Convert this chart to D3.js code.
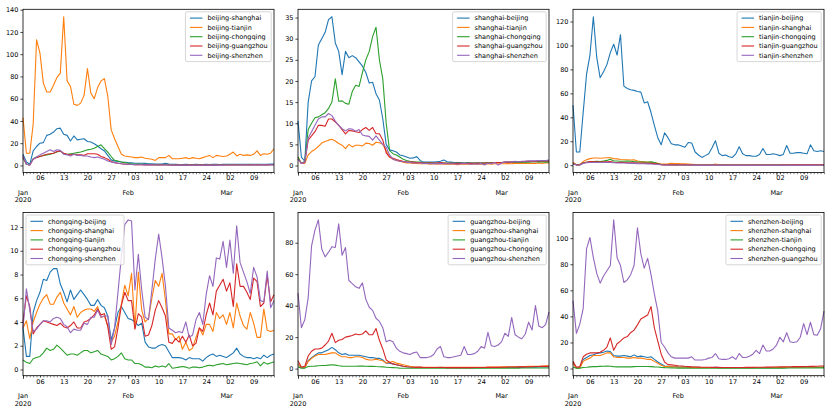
<!DOCTYPE html>
<html><head><meta charset="utf-8">
<script src="https://cdn.jsdelivr.net/npm/d3@7"></script>
<style>
body{margin:0;background:#fff;}
text{font-family:"DejaVu Sans",sans-serif;}
</style></head><body>
<svg id="c" width="830" height="415"></svg>
<script>
// ---------- DATA ----------
const startDate = "2020-01-01";
const endDate = "2020-03-15";
const seriesColors = ["#1f77b4","#ff7f0e","#2ca02c","#d62728","#9467bd"];

const beijing_shanghai = [10,3,1,13,17,20,20.5,27,28,30, 33,33.5,28,27,22,26.5,23,23.5,24,21.5, 21,19.5,17.5,15,13,9,5,4,3.5,3, 2.8,2.5,2.3,2,2,2,1.8,1.5,1.5,1.3, 1.2,1.3,2,1.3,1,0.9,0.8,0.8,0.9,0.8, 0.8,0.9,0.8,0.8,0.9,0.8,0.9,0.9,0.8,0.9, 1,0.9,1,1,1.1,1,1,1.1,1,1.1, 1,1.1,1.1,1.2,1.2];
const beijing_tianjin = [43,11,11,37,113,101,74,66,66,72, 79,83,133.7,76,71,55,54,56,63,87, 65,60,70,76,78,62,32,24,17,10, 8.5,8,7.5,7,7,7.5,6.5,6,5.5,4.5, 7,7,7,9,6,6,6,6.5,7,6, 7,6.5,6,7,8,9,7,9,8.5,8, 8.5,10,12,8.5,10,9,9.5,9,10,13, 9,10.5,10,11,15];
const beijing_chongqing = [7,1,0.5,6,7.5,8,9,9.5,10,11, 12,13,10.5,10,10.5,11,11.5,12,13,14, 14.5,15.5,17,18.5,15,12,8,4.5,4,3, 2.5,2,1.5,1.3,1.2,1,1,0.9,0.8,0.8, 0.7,0.8,0.9,0.7,0.6,0.6,0.5,0.6,0.5,0.5, 0.5,0.5,0.6,0.5,0.5,0.6,0.5,0.6,0.6,0.6, 0.6,0.6,0.7,0.6,0.6,0.7,0.6,0.7,0.7,0.7, 0.6,0.7,0.7,0.7,0.8];
const beijing_guangzhou = [8,1,0.5,5.5,7,8,9,10,10.5,11, 12.5,13,11,10,9.5,10,9.5,9.5,9,10.5, 10.5,10.5,10,8,7,5.5,3.5,2.5,2,1.5, 1.2,1,0.8,0.7,0.6,0.6,0.5,0.5,0.5,0.4, 0.4,0.5,0.4,0.4,0.3,0.3,0.3,0.4,0.3,0.3, 0.3,0.3,0.3,0.4,0.3,0.3,0.4,0.3,0.4,0.4, 0.4,0.4,0.5,0.4,0.4,0.5,0.4,0.5,0.5,0.5, 0.5,0.5,0.5,0.6,0.6];
const beijing_shenzhen = [8.5,1,0.5,5.5,7.5,9.5,11,12.5,14,12.5, 14,13.5,10,9.5,8.5,10,9,9,8.5,8.5, 7.5,7,7.5,6.5,5.5,4,3,2.5,2,1.5, 1.2,1,0.8,0.7,0.6,0.6,0.5,0.5,0.5,0.4, 0.4,0.4,0.5,0.4,0.3,0.3,0.3,0.3,0.3,0.3, 0.3,0.3,0.3,0.3,0.4,0.3,0.3,0.4,0.3,0.3, 0.4,0.4,0.4,0.4,0.4,0.5,0.4,0.4,0.5,0.4, 0.5,0.5,0.4,0.5,0.5];

const shanghai_beijing = [10.5,2,1,15,20,21,28.5,30,31.5,34.5, 35.2,29,27,21.5,27,25.5,26,25.5,24.5,23.5, 22,19.5,19.7,17,15.5,11,5,3.7,3.5,3.2, 2.5,2.3,2,1.7,1.8,2.1,1.2,0.8,0.8,0.8, 0.8,0.9,1,1.3,0.9,0.8,0.7,0.7,0.7,0.6, 0.7,0.6,0.6,0.6,0.6,0.6,0.7,0.6,0.7,0.7, 0.7,0.8,0.7,0.8,0.8,0.8,0.9,0.8,0.9,0.9, 0.9,1,1,1,1.1];
const shanghai_tianjin = [2,0.5,0.5,2.5,3.3,3.8,4.5,5.3,5.7,6, 6.2,5.8,5.2,4.8,4,5,4.4,4.8,4.8,4.6, 5.3,5.2,4.8,5.5,5.4,5,3.5,2,1.5,1.2, 1,0.8,0.6,0.6,0.5,0.5,0.4,0.4,0.4,0.3, 0.4,0.3,0.4,0.3,0.3,0.3,0.3,0.2,0.3,0.3, 0.3,0.3,0.3,0.3,0.3,0.3,0.4,0.3,0.4,0.4, 0.4,0.4,0.5,0.4,0.5,0.5,0.5,0.5,0.5,0.5, 0.5,0.6,0.5,0.6,0.6];
const shanghai_chongqing = [2,0.5,1,8.5,10,11.3,11.5,12,12.5,13.5, 15,20.5,15.2,15.3,14.7,14.5,17.5,19,18.7,22, 25,27,30.5,32.7,25,20.5,10,3.5,2.8,2.5, 2,1.5,1.2,1,0.9,0.8,0.8,0.7,0.7,0.7, 0.6,0.6,0.7,0.6,0.6,0.6,0.5,0.6,0.5,0.5, 0.5,0.6,0.6,0.6,0.6,0.6,0.7,0.7,0.7,0.7, 0.7,0.7,0.8,0.8,0.8,0.8,0.8,0.8,0.8,0.9, 0.9,0.8,0.9,0.8,0.8];
const shanghai_guangzhou = [1.5,0.5,0.7,6,7,8,9.5,9.5,9.3,11, 11,10.3,9.5,8.5,7.5,8.3,8.2,8,7.8,8.5, 9,8.3,9,7.5,7.5,6,3,2,1.7,1.4, 1.2,1,0.9,0.8,0.8,0.7,0.7,0.6,0.6,0.6, 0.6,0.6,0.7,0.6,0.5,0.5,0.5,0.5,0.5,0.5, 0.5,0.5,0.5,0.6,0.5,0.6,0.6,0.6,0.7,0.7, 0.7,0.8,0.8,0.8,0.9,0.9,0.9,1,1,1, 1,1.1,1.1,1.1,1.1];
const shanghai_shenzhen = [1.5,0.5,0.8,6.5,8,9.5,11,11.5,11.5,12.3, 11.8,10.5,9.5,8.7,8.2,8.7,8.6,8.1,8.5,7.2, 7,6.9,6,7,6,5,4.3,2.5,1.5,1.2, 1,0.9,0.8,0.7,0.6,0.6,0.6,0.5,0.5,0.4, 0.5,0.4,0.5,0.4,0.4,0.4,0.4,0.3,0.4,0.4, 0.4,0.3,0.4,0.3,0.5,0.1,0.6,0.4,0.7,0.1, 0.6,0.8,0.9,0.8,1,0.9,1,1,1.1,1.1, 1.1,1.2,1.2,1.2,1.3];

const tianjin_beijing = [50,11,11,44,76,92,124,90,73,78, 84,94,101,92,109,66,64,63,62.5,61.5, 61,52,53,44,33,23,17,27,23,18, 17,17,16,15,19,18.5,11,8.5,6.5,8, 9.5,14.5,20.5,10,8,8.5,7,6.5,9.5,15.5, 9.5,8,8,7.5,7.5,9,14,9,9,9.5, 9,8,9,16.5,10,10,10.5,10.5,10,9.5, 17,12,11.5,12,11.5];
const tianjin_shanghai = [2.5,0.5,0.5,3,4.5,5.5,6,6,5.8,6, 6.2,6.3,5.5,5.3,4.8,4.5,4.5,4.3,4.5,3.5, 3,2.8,2.7,2.5,2,1.5,1,1,1.2,1.5, 1.3,1.3,1.2,1.2,1,0.8,0.5,0.4,0.3,0.3, 0.3,0.4,1,0.3,0.3,0.3,0.3,0.3,0.2,0.3, 0.3,0.3,0.2,0.3,0.3,0.3,0.3,0.3,0.3,0.3, 0.3,0.4,0.3,0.4,0.4,0.3,0.4,0.4,0.4,0.4, 0.4,0.4,0.4,0.5,0.4];
const tianjin_chongqing = [1.5,0.3,0.3,2,2.5,3,3,3.2,3,3.5, 4,5,3.5,3.5,3.3,3.3,3.5,3.3,3,2.8, 2.7,2.6,2.5,2.8,2.3,1.5,0.5,0.4,0.4,0.3, 0.3,0.3,0.2,0.3,0.2,0.2,0.2,0.2,0.2,0.2, 0.2,0.2,0.2,0.2,0.2,0.2,0.2,0.2,0.2,0.2, 0.2,0.2,0.2,0.2,0.2,0.2,0.2,0.2,0.2,0.2, 0.2,0.2,0.2,0.2,0.2,0.2,0.2,0.2,0.2,0.2, 0.2,0.2,0.2,0.2,0.2];
const tianjin_guangzhou = [1.5,0.3,0.3,1.8,2.5,3,2.8,2.8,2.6,2.8, 2.8,3,2.5,2.3,2.5,2.3,2,2,2,1.8, 1.7,1.7,1.5,1.5,1.3,1,0.5,0.3,0.3,0.3, 0.3,0.3,0.3,0.3,0.3,0.3,0.2,0.2,0.2,0.2, 0.2,0.2,0.2,0.2,0.2,0.2,0.2,0.2,0.2,0.2, 0.2,0.2,0.2,0.2,0.2,0.2,0.2,0.2,0.2,0.2, 0.2,0.2,0.3,0.2,0.3,0.3,0.3,0.3,0.3,0.3, 0.3,0.3,0.3,0.3,0.3];
const tianjin_shenzhen = [1.2,0.2,0.2,1.5,2,2.2,2.3,2.3,2.2,2.3, 2.4,2.2,2,1.8,1.9,1.8,1.6,1.5,1.5,1.3, 1.2,1.2,1.1,1,0.8,0.6,0.4,0.2,0.2,0.2, 0.2,0.2,0.2,0.2,0.2,0.2,0.1,0.1,0.1,0.1, 0.1,0.1,0.1,0.1,0.1,0.1,0.1,0.1,0.1,0.1, 0.1,0.1,0.1,0.1,0.1,0.1,0.1,0.1,0.1,0.1, 0.1,0.1,0.1,0.1,0.1,0.1,0.1,0.1,0.1,0.1, 0.1,0.1,0.1,0.1,0.1];

const chongqing_beijing = [3.5,1.1,1.1,4.8,5.8,6.5,7.6,7.5,8.2,8.5, 8.5,7.2,6.5,5.7,6.7,5.9,6.3,6.7,6.3,5.9, 5.4,5.4,5.9,5.4,5.2,4.5,2.5,3.5,4.8,5.3, 4.8,4.3,4.2,4,3.7,3.9,2.3,1.9,1.8,1.8, 2,2.1,2,1.5,1,1,1,0.95,0.8,1, 0.9,0.9,0.9,0.7,1,1.2,1.3,1.1,1.2,1.1, 1,1.2,1.4,1.8,1.3,1.1,1,1,0.9,1, 0.9,1.2,1,1.2,1.3];
const chongqing_shanghai = [3.5,4.1,2.6,4,4.8,5.5,6,6.3,5.5,5.5, 6.1,6.5,5.6,5.1,4.6,5.3,4.4,4.8,5,5.1, 5.1,4.9,5.3,4.4,4.5,3.7,2.3,2.8,4,5.5, 7.1,6.2,8.1,3.5,8.2,5,4,4.3,6,7.5, 7,8.1,5.8,3,3,2.5,2.8,1.7,2.3,1.6, 1.8,2.7,3.5,2.9,3.8,3.8,3.2,4.8,4.3,4.6, 3.8,4.8,3.5,5.6,4.5,3.7,3.4,4.8,3.9,2.7, 2.7,5.1,3.3,3.2,3.3];
const chongqing_tianjin = [0.8,0.6,0.5,0.9,1,1.1,1.4,1.8,1.6,1.7, 2.05,1.8,1.5,1.2,1.3,1.3,1.2,1.4,1.6,1.6, 1.4,1.5,1.6,1.3,1.2,1.1,0.8,0.9,1.1,1.4, 0.9,0.8,0.8,0.5,0.5,0.4,0.2,0.2,0.15,0.3, 0.2,0.3,0.2,0.5,0.1,0.15,0.2,0.25,0.2,0.1, 0.2,0.2,0.15,0.2,0.3,0.35,0.3,0.4,0.45,0.5, 0.4,0.45,0.5,0.55,0.5,0.45,0.4,0.5,0.55,0.65, 0.3,0.6,0.45,0.55,0.65];
const chongqing_guangzhou = [4,6.2,5.3,3,3.5,3.8,4.1,4,3.9,3.8, 3.7,3.9,3.6,3.5,3.7,4,3.5,3.5,4,4.1, 4.3,4.6,5.1,4.6,4.7,3.6,1.7,1.9,3.5,5.4, 6.5,5.8,5.8,3.4,4.7,4.4,2.8,2.9,3.7,5, 5.8,5.2,4.5,2.3,2.2,2.6,2.3,2.8,2.3,2.9, 2,2.2,3.5,3.2,4.6,5.6,4.6,6.6,7.1,7.6, 6.6,7.3,5.3,8.9,7,7,6.5,5.9,7.7,7.4, 5.3,5.6,7.9,5.7,6.3];
const chongqing_shenzhen = [3.5,6.8,5,3.2,3.4,3.8,4.1,4.1,4,4.3, 4.4,4.3,3.8,3.6,3.1,3.4,3.3,3.3,3.9,3.8, 4.4,4.4,5,4.4,4.5,4.5,2.1,3.5,6.5,9.5, 12.2,12.6,12.5,6.7,9.7,6.7,4.4,4.2,6.7,9.3, 11.4,9.4,7,3.5,3.3,3.1,3.2,3.1,4,2.7, 2.9,4.2,4.8,3.8,6.3,7.9,7,9.4,9.3,10.8, 8.6,10.9,8.1,12.1,9,8.2,7.4,6.4,8.6,7.8, 5.8,5.7,8.3,5.2,5.8];

const guangzhou_beijing = [3,0.5,0.5,5,7,8.5,10,10,11,12, 13.5,12,10,9,9.5,8.5,8.5,8.5,8.5,8, 7.5,7,7,6.5,6.5,5.5,3.5,3.5,3,2.5, 2,1.5,1.2,1,0.9,0.8,0.8,0.7,0.7,0.7, 0.7,0.7,0.8,0.7,0.6,0.6,0.6,0.6,0.6,0.6, 0.6,0.6,0.6,0.6,0.7,0.6,0.7,0.7,0.7,0.7, 0.7,0.8,0.8,0.8,0.8,0.9,0.8,0.9,0.9,0.9, 0.9,1,1,1,1];
const guangzhou_shanghai = [3,0.5,0.5,4.5,6.5,8,9,9,9,9.5, 10,10,8.5,7.5,7.5,7,7,7.5,7.5,7, 6,5.5,5.5,6,5.5,5,3.5,4,4.5,3.5, 3,2.5,2,1.5,1.2,1,1,0.9,0.9,0.8, 0.8,0.8,0.9,0.8,0.8,0.8,0.8,0.8,0.8,0.8, 0.8,0.8,0.8,0.9,0.9,0.9,1,1,1,1, 1.1,1.1,1.2,1.2,1.2,1.3,1.3,1.3,1.4,1.4, 1.5,1.5,1.6,1.7,1.8];
const guangzhou_tianjin = [1,0.3,0.3,1.3,1.5,1.6,1.8,2,2,2.2, 2.4,2.2,1.8,1.6,1.5,1.5,1.5,1.5,1.6,1.6, 1.5,1.4,1.5,1.3,1.2,1.1,0.9,0.7,0.6,0.5, 0.3,0.2,0.2,0.2,0.2,0.2,0.2,0.2,0.2,0.2, 0.2,0.2,0.2,0.2,0.2,0.2,0.2,0.2,0.2,0.2, 0.2,0.2,0.2,0.3,0.3,0.3,0.3,0.3,0.3,0.3, 0.3,0.3,0.3,0.4,0.3,0.3,0.4,0.4,0.4,0.4, 0.4,0.4,0.4,0.4,0.4];
const guangzhou_chongqing = [5,1,1.5,8,11,12.5,12.5,13,15,17.5, 22.5,16.5,18,18.5,20,20.5,21,22,21.5,22, 24,21.5,21.5,25.5,18,12.5,5.5,4,3,2.5, 2,1.5,1.2,1,0.9,0.8,0.8,0.7,0.7,0.7, 0.7,0.7,0.7,0.7,0.6,0.6,0.6,0.6,0.6,0.6, 0.6,0.6,0.7,0.7,0.7,0.7,0.8,0.8,0.8,0.8, 0.9,0.9,1,1,1,1.1,1.1,1.1,1.2,1.2, 1.3,1.3,1.4,1.4,1.5];
const guangzhou_shenzhen = [48,26,31,45,78,88,94.5,76,71,74, 77.5,77,92,72,77,56,54,52,51,54.5, 44,39,37,32,30,26,17,18,17,13, 11,10,9.5,9,10,10.5,7,7,7,7.5, 9,12.5,14,7.5,7,7,7.5,8,8.5,14, 9,9,9.5,11,14,13,23,14.5,14,15, 17,22.5,20.5,32.5,21.5,20,19,22,29.5,24.5, 40,27,26,28,36];

const shenzhen_beijing = [4,0.5,0.5,7,8.5,10,10.5,11.5,12,12.5, 13.5,13,10,9.5,9.5,10,9.5,9,10.5,9, 9.5,9,8.5,9,7,5,3.5,2,1.8,1.6, 1.5,1.3,1.2,1.1,1,1,0.9,0.9,0.8,0.8, 0.8,0.8,0.9,0.7,0.7,0.7,0.7,0.6,0.6,0.6, 0.6,0.6,0.6,0.6,0.7,0.6,0.7,0.7,0.7,0.7, 0.7,0.7,0.8,0.7,0.8,0.8,0.8,0.8,0.8,0.8, 0.8,0.8,0.8,0.8,0.9];
const shenzhen_shanghai = [4,0.5,0.5,5.5,7,8,10,10,10,11, 12,12,9,8.5,8.5,8.5,8,8,8.5,8, 8,7.5,7,7,5.5,4,2.5,1.5,1.5,1.4, 1.3,1.2,1.1,1,1,0.9,0.9,0.8,0.8,0.8, 0.8,0.8,0.8,0.7,0.7,0.7,0.7,0.7,0.7,0.7, 0.7,0.7,0.7,0.7,0.8,0.8,0.8,0.8,0.8,0.9, 0.9,0.9,0.9,0.9,1,1,1,1,1,1, 1,1.1,1,1.1,1.1];
const shenzhen_tianjin = [1,0.3,0.3,0.8,1,1.3,1.5,1.5,1.7,1.8, 2,1.8,1.5,1.3,1.3,1.3,1.3,1.3,1.5,1.6, 1.6,1.6,1.6,1.5,1.3,1.2,0.9,0.7,0.6,0.5, 0.4,0.3,0.3,0.3,0.3,0.3,0.2,0.2,0.2,0.2, 0.2,0.2,0.2,0.2,0.2,0.2,0.2,0.2,0.2,0.2, 0.2,0.2,0.3,0.3,0.3,0.3,0.3,0.3,0.3,0.3, 0.3,0.3,0.3,0.4,0.4,0.4,0.4,0.4,0.4,0.4, 0.4,0.4,0.5,0.5,0.5];
const shenzhen_chongqing = [5.5,1,1.5,9,11,12,12,12,12.5,14, 16.5,23.5,14,19,21,23.5,24.5,27.5,29.5,33.5, 38,39.5,41,47.5,31,21,11,5,3,2.8, 2.5,2.2,2,1.7,1.5,1.3,1.2,1.1,1,1, 1,0.9,0.9,0.9,0.8,0.8,0.8,0.8,0.8,0.8, 0.8,0.9,0.9,0.9,1,1,1,1.1,1.1,1.2, 1.2,1.3,1.3,1.4,1.4,1.5,1.5,1.5,1.6,1.6, 1.7,1.7,1.8,1.9,2];
const shenzhen_guangzhou = [52,27,34,46,92,100.5,85,73,65.5,71, 75,79,114,85,79,66,68,72,79,108, 88,77,84.5,72,57,44,20,16.5,12,9, 8,8,8,8,8,9,6.5,6.5,6.5,7, 8,8.5,11.5,7.5,7,7,7.5,9,7,11.5, 8.5,8.5,9.5,11,14,11.5,18,13.5,13.5,15, 18,24,20.5,27.5,20.5,20,20.5,24,34.5,26, 35.5,26,25.5,30.5,44];

const yTicks1 = [0,20,40,60,80,100,120,140];
const yTicks2 = [0,5,10,15,20,25,30,35];
const yTicks3 = [0,20,40,60,80,100,120];
const yTicks4 = [0,2,4,6,8,10,12];
const yTicks5 = [0,20,40,60,80];
const yTicks6 = [0,20,40,60,80,100];

const panels = [
  {names:["beijing-shanghai","beijing-tianjin","beijing-chongqing","beijing-guangzhou","beijing-shenzhen"],
   values:[beijing_shanghai,beijing_tianjin,beijing_chongqing,beijing_guangzhou,beijing_shenzhen], ticks:yTicks1, legend:"ur"},
  {names:["shanghai-beijing","shanghai-tianjin","shanghai-chongqing","shanghai-guangzhou","shanghai-shenzhen"],
   values:[shanghai_beijing,shanghai_tianjin,shanghai_chongqing,shanghai_guangzhou,shanghai_shenzhen], ticks:yTicks2, legend:"ur"},
  {names:["tianjin-beijing","tianjin-shanghai","tianjin-chongqing","tianjin-guangzhou","tianjin-shenzhen"],
   values:[tianjin_beijing,tianjin_shanghai,tianjin_chongqing,tianjin_guangzhou,tianjin_shenzhen], ticks:yTicks3, legend:"ur"},
  {names:["chongqing-beijing","chongqing-shanghai","chongqing-tianjin","chongqing-guangzhou","chongqing-shenzhen"],
   values:[chongqing_beijing,chongqing_shanghai,chongqing_tianjin,chongqing_guangzhou,chongqing_shenzhen], ticks:yTicks4, legend:"ul"},
  {names:["guangzhou-beijing","guangzhou-shanghai","guangzhou-tianjin","guangzhou-chongqing","guangzhou-shenzhen"],
   values:[guangzhou_beijing,guangzhou_shanghai,guangzhou_tianjin,guangzhou_chongqing,guangzhou_shenzhen], ticks:yTicks5, legend:"ur"},
  {names:["shenzhen-beijing","shenzhen-shanghai","shenzhen-tianjin","shenzhen-chongqing","shenzhen-guangzhou"],
   values:[shenzhen_beijing,shenzhen_shanghai,shenzhen_tianjin,shenzhen_chongqing,shenzhen_guangzhou], ticks:yTicks6, legend:"ur"}
];

// ---------- LAYOUT ----------
const colLeft = [23, 298, 573];
const rowTop = [9.3, 212.5];
const W = 251, H = 163.2;
const FS = 6.5;

const parse = d3.utcParse("%Y-%m-%d");
const d0 = parse(startDate), d1 = parse(endDate);
const dates = d3.utcDay.range(d0, d3.utcDay.offset(d1, 1));

const svg = d3.select("#c");

panels.forEach((p, k) => {
  const left = colLeft[k % 3], top = rowTop[Math.floor(k / 3)];
  const g = svg.append("g").attr("transform", `translate(${left},${top})`);

  const x = d3.scaleUtc().domain([d0, d1]).range([0, W]);
  const all = p.values.flat();
  const mn = d3.min(all), mx = d3.max(all), pad = (mx - mn) * 0.05;
  const y = d3.scaleLinear().domain([mn - pad, mx + pad]).range([H, 0]);

  // lines
  const line = d3.line().x((d, i) => x(dates[i])).y(d => y(d));
  p.values.forEach((vals, j) => {
    g.append("path").datum(vals).attr("d", line)
      .attr("fill", "none").attr("stroke", seriesColors[j])
      .attr("stroke-width", 1.1).attr("stroke-linejoin", "round");
  });

  // y axis
  const ya = g.append("g").call(d3.axisLeft(y).tickValues(p.ticks).tickSize(2.6).tickPadding(2).tickFormat(d3.format("d")));
  ya.select(".domain").remove();
  ya.selectAll("line").attr("stroke", "#000").attr("stroke-width", 0.7);
  ya.selectAll("text").attr("font-size", FS).attr("font-family", "DejaVu Sans").attr("fill", "#000");

  // x axis: daily minor ticks
  const xa = g.append("g").attr("transform", `translate(0,${H})`);
  xa.call(d3.axisBottom(x).tickValues(dates).tickSize(1.7).tickFormat(""));
  xa.select(".domain").remove();
  xa.selectAll("line").attr("stroke", "#000").attr("stroke-width", 0.5);
  // weekly labels
  const mondays = dates.filter(d => d.getUTCDay() === 1);
  const xw = g.append("g").attr("transform", `translate(0,${H})`)
    .call(d3.axisBottom(x).tickValues(mondays).tickSize(1.7).tickPadding(1.6).tickFormat(d3.utcFormat("%d")));
  xw.select(".domain").remove();
  xw.selectAll("line").attr("stroke", "#000").attr("stroke-width", 0.6);
  xw.selectAll("text").attr("font-size", FS).attr("font-family", "DejaVu Sans").attr("fill", "#000");
  // month labels
  const months = dates.filter(d => d.getUTCDate() === 1);
  const xm = g.append("g").attr("transform", `translate(0,${H})`)
    .call(d3.axisBottom(x).tickValues(months).tickSize(3.2).tickFormat(""));
  xm.select(".domain").remove();
  xm.selectAll("line").attr("stroke", "#000").attr("stroke-width", 0.7);
  months.forEach(m => {
    const t = g.append("text").attr("x", x(m)).attr("y", H + 22.2)
      .attr("text-anchor", "middle").attr("font-size", FS).attr("fill", "#000")
      .text(d3.utcFormat("%b")(m));
    if (m.getUTCMonth() === 0) {
      g.append("text").attr("x", x(m)).attr("y", H + 29.8)
        .attr("text-anchor", "middle").attr("font-size", FS).attr("fill", "#000")
        .text(d3.utcFormat("%Y")(m));
    }
  });

  // frame
  g.append("rect").attr("width", W).attr("height", H)
    .attr("fill", "none").attr("stroke", "#000").attr("stroke-width", 0.8);

  // legend
  const lg = g.append("g");
  const texts = p.names.map((n, j) => lg.append("text").attr("font-size", FS).attr("fill", "#000").text(n));
  const tw = d3.max(texts, t => t.node().getComputedTextLength());
  const padL = 4.5, hl = 12.5, gap = 5, padR = 3.5, rowH = 9.3, padT = 5.8;
  const bw = padL + hl + gap + tw + padR;
  const bh = padT * 2 + rowH * 4 + 1;
  const bx = p.legend === "ur" ? W - 2.8 - bw : 3;
  const by = 2.5;
  lg.insert("rect", ":first-child").attr("x", bx).attr("y", by).attr("width", bw).attr("height", bh)
    .attr("rx", 1.5).attr("fill", "#fff").attr("fill-opacity", 0.8)
    .attr("stroke", "#cccccc").attr("stroke-width", 0.8);
  texts.forEach((t, j) => {
    const cy = by + padT + 0.5 + j * rowH;
    t.attr("x", bx + padL + hl + gap).attr("y", cy).attr("dy", "0.35em");
    lg.append("line").attr("x1", bx + padL).attr("x2", bx + padL + hl)
      .attr("y1", cy).attr("y2", cy).attr("stroke", seriesColors[j]).attr("stroke-width", 1.1);
  });
});
</script>
</body></html>
